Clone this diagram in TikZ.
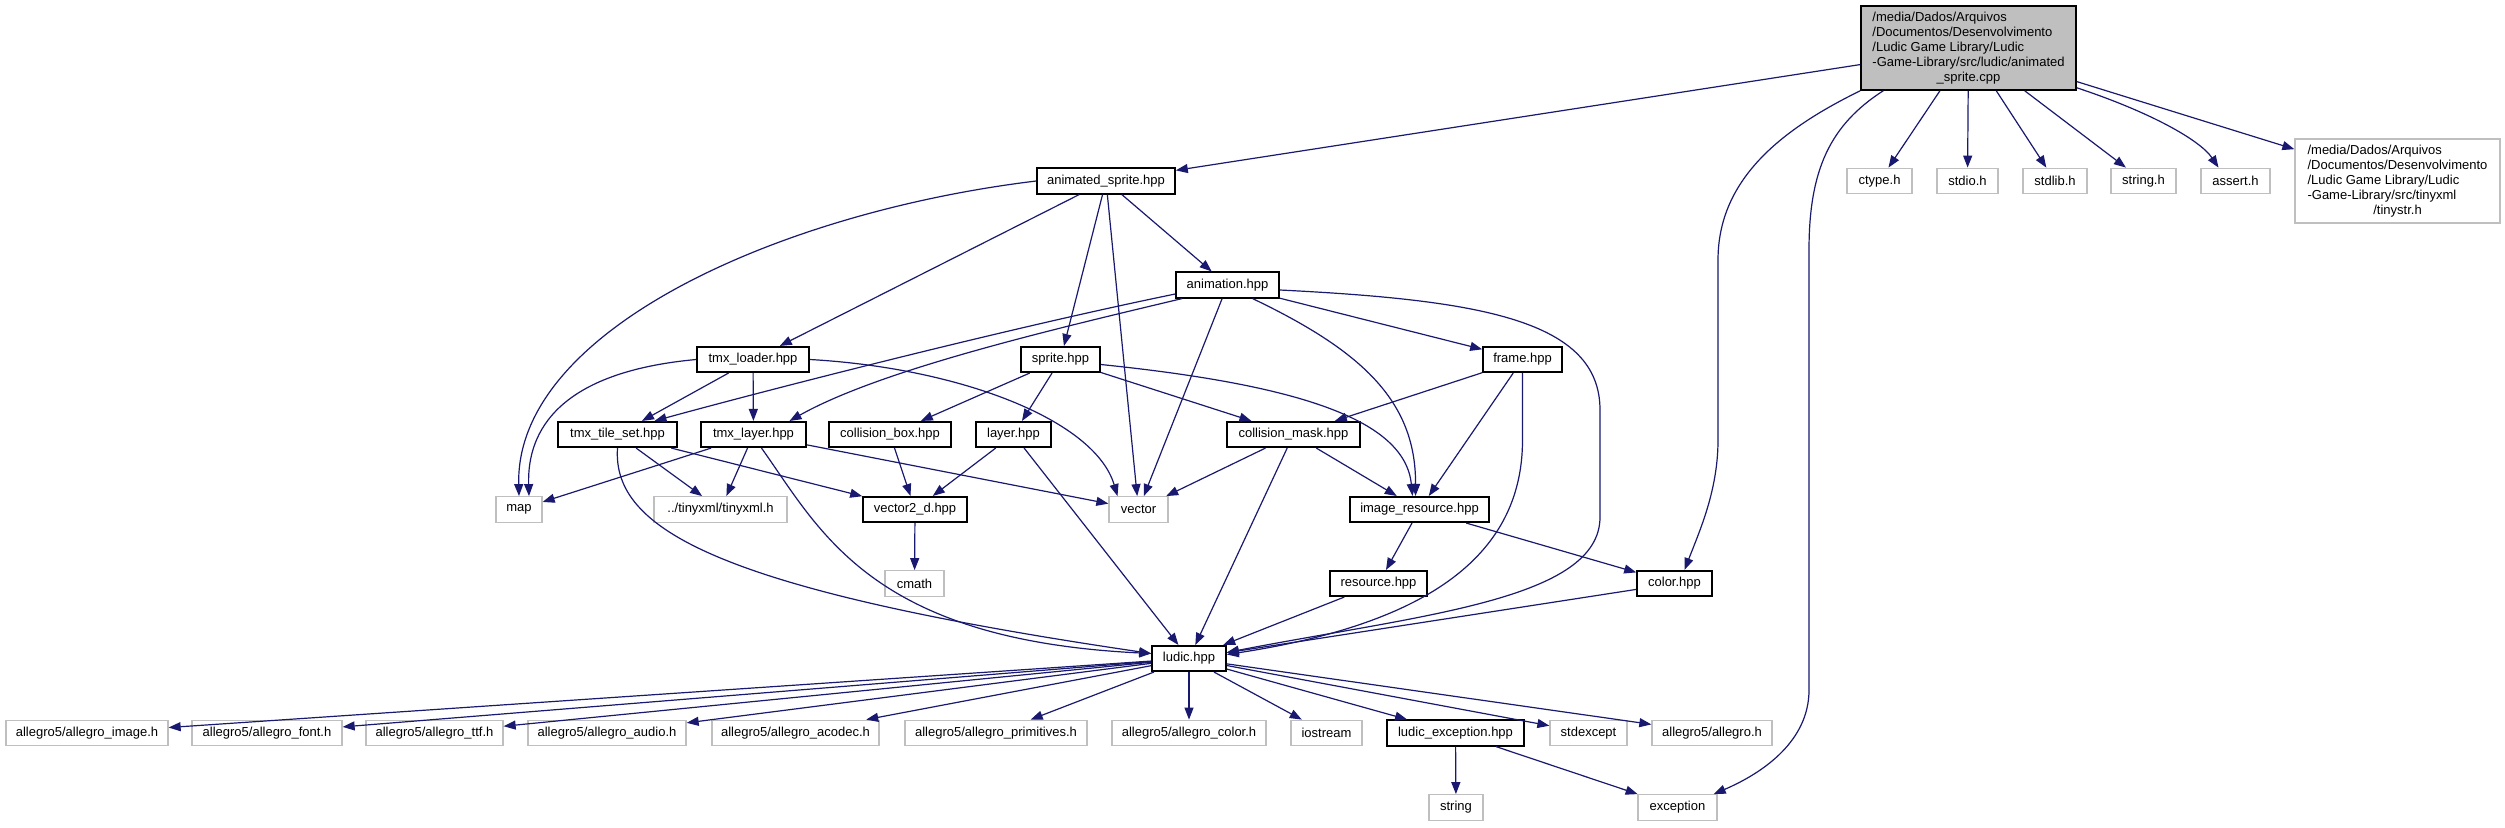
\documentclass[tikz,border=0pt]{standalone}
\usepackage{fontspec}
\setmainfont{Liberation Sans}
\usetikzlibrary{arrows.meta,calc}
\definecolor{edgeblue}{HTML}{191970}
\definecolor{lgray}{HTML}{BFBFBF}
\begin{document}
\begin{tikzpicture}[x=1pt,y=-1pt,
  font=\fontsize{13}{15}\selectfont,
  doc/.style={draw=black, line width=1.6pt, fill=white, minimum height=25.5pt, inner sep=0pt},
  ext/.style={draw=lgray, line width=1.3pt, fill=white, minimum height=25.5pt, inner sep=0pt},
  conn/.style={draw=edgeblue, line width=1.2pt, -{Triangle[length=12pt,width=9pt]}}]
\useasboundingbox[fill=white] (0,0) rectangle (2505,827);

% ---- nodes ----
\node[doc, fill=lgray, minimum width=215pt, minimum height=84pt] (main) at (1968.5,48)
  {\begin{tabular}{@{}l@{}}/media/Dados/Arquivos\\/Documentos/Desenvolvimento\\/Ludic Game Library/Ludic\\-Game-Library/src/ludic/animated\\\multicolumn{1}{@{}c@{}}{\_sprite.cpp}\end{tabular}};
\node[ext, minimum width=205pt, minimum height=84pt] (tinystr) at (2397.5,181)
  {\begin{tabular}{@{}l@{}}/media/Dados/Arquivos\\/Documentos/Desenvolvimento\\/Ludic Game Library/Ludic\\-Game-Library/src/tinyxml\\\multicolumn{1}{@{}c@{}}{/tinystr.h}\end{tabular}};
\node[ext, minimum width=65pt] (ctype) at (1879.5,181) {ctype.h};
\node[ext, minimum width=61pt] (stdio) at (1967.5,181) {stdio.h};
\node[ext, minimum width=64pt] (stdlib) at (2055,181) {stdlib.h};
\node[ext, minimum width=65pt] (stringh) at (2143.5,181) {string.h};
\node[ext, minimum width=69pt] (assert) at (2235.5,181) {assert.h};
\node[doc, minimum width=138pt] (animated_sprite) at (1106,181) {animated\_sprite.hpp};
\node[doc, minimum width=103pt] (animation) at (1227.5,285) {animation.hpp};
\node[doc, minimum width=112pt] (tmx_loader) at (753,359.5) {tmx\_loader.hpp};
\node[doc, minimum width=79pt] (sprite) at (1060.5,359.5) {sprite.hpp};
\node[doc, minimum width=79pt] (frame) at (1522.5,359.5) {frame.hpp};
\node[doc, minimum width=119pt] (tmx_tile_set) at (617.5,434.5) {tmx\_tile\_set.hpp};
\node[doc, minimum width=105pt] (tmx_layer) at (753.5,434.5) {tmx\_layer.hpp};
\node[doc, minimum width=122pt] (collision_box) at (890,434.5) {collision\_box.hpp};
\node[doc, minimum width=75pt] (layer) at (1013.5,434.5) {layer.hpp};
\node[doc, minimum width=133pt] (collision_mask) at (1293.5,434.5) {collision\_mask.hpp};
\node[ext, minimum width=46pt] (map) at (519,509.5) {map};
\node[ext, minimum width=133pt] (tinyxml) at (720.5,509.5) {../tinyxml/tinyxml.h};
\node[doc, minimum width=104pt] (vector2_d) at (915,509.5) {vector2\_d.hpp};
\node[ext, minimum width=59pt] (vector) at (1138.5,509.5) {vector};
\node[doc, minimum width=139pt] (image_resource) at (1419.5,509.5) {image\_resource.hpp};
\node[ext, minimum width=59pt] (cmath) at (914.5,583.5) {cmath};
\node[doc, minimum width=97pt] (resource) at (1378.5,583.5) {resource.hpp};
\node[doc, minimum width=75pt] (color) at (1674.5,583.5) {color.hpp};
\node[doc, minimum width=74pt] (ludic) at (1189,658.5) {ludic.hpp};
\node[ext, minimum width=162pt] (a_image) at (87,733) {allegro5/allegro\_image.h};
\node[ext, minimum width=150pt] (a_font) at (267,733) {allegro5/allegro\_font.h};
\node[ext, minimum width=137pt] (a_ttf) at (434.5,733) {allegro5/allegro\_ttf.h};
\node[ext, minimum width=158pt] (a_audio) at (607,733) {allegro5/allegro\_audio.h};
\node[ext, minimum width=167pt] (a_acodec) at (795.5,733) {allegro5/allegro\_acodec.h};
\node[ext, minimum width=182pt] (a_prim) at (996,733) {allegro5/allegro\_primitives.h};
\node[ext, minimum width=154pt] (a_color) at (1189,733) {allegro5/allegro\_color.h};
\node[ext, minimum width=71pt] (iostream) at (1326.5,733) {iostream};
\node[doc, minimum width=137pt] (ludic_exception) at (1455.5,733) {ludic\_exception.hpp};
\node[ext, minimum width=77pt] (stdexcept) at (1588.5,733) {stdexcept};
\node[ext, minimum width=120pt] (allegro_h) at (1712,733) {allegro5/allegro.h};
\node[ext, minimum width=54pt] (string_s) at (1456,807.5) {string};
\node[ext, minimum width=79pt] (exception) at (1677.5,807.5) {exception};

% ---- edges from main ----
\draw[conn] (main) -- (animated_sprite);
\draw[conn] (main) -- (ctype);
\draw[conn] (main) -- (stdio);
\draw[conn] (main) -- (stdlib);
\draw[conn] (main) -- (stringh);
\draw[conn] ($(main.south east)+(0,-3)$) .. controls (2150,112) and (2200,140) .. ($(assert.north)+(-17,0)$);
\draw[conn] (main) -- (tinystr);
\draw[conn] (main.south west) .. controls (1780,130) and (1718,180) .. (1718,260) -- (1718,440) .. controls (1718,490) and (1700,530) .. ($(color.north)+(10,0)$);
\draw[conn] ($(main.south west)+(23,0)$) .. controls (1830,125) and (1809,170) .. (1809,250) -- (1809,690) .. controls (1809,740) and (1765,772) .. ($(exception.north east)+(-4,0)$);

% ---- animated_sprite ----
\draw[conn] (animated_sprite.west) .. controls (780,212) and (515,330) .. (map.north);
\draw[conn] (animated_sprite) -- (tmx_loader);
\draw[conn] (animated_sprite) -- (sprite);
\draw[conn] (animated_sprite) -- (vector);
\draw[conn] (animated_sprite) -- (animation);

% ---- animation ----
\draw[conn] ($(animation.west)+(0,9)$) .. controls (1000,330) and (760,392) .. ($(tmx_tile_set.north)+(37,0)$);
\draw[conn] ($(animation.south west)+(7,0)$) .. controls (1050,330) and (880,370) .. ($(tmx_layer.north)+(36,0)$);
\draw[conn] (animation) -- (vector);
\draw[conn] ($(animation.south)+(25,0)$) .. controls (1360,350) and (1416,400) .. ($(image_resource.north)+(-4,0)$);
\draw[conn] (animation) -- (frame);
\draw[conn] ($(animation.east)+(0,5)$) .. controls (1480,300) and (1600,320) .. (1600,410) -- (1600,517) .. controls (1600,600) and (1420,615) .. ($(ludic.east)+(0,-6)$);

% ---- tmx_loader ----
\draw[conn] (tmx_loader.west) .. controls (560,372) and (527,430) .. ($(map.north)+(10,0)$);
\draw[conn] (tmx_loader) -- (tmx_tile_set);
\draw[conn] (tmx_loader) -- (tmx_layer);
\draw[conn] (tmx_loader.east) .. controls (960,368) and (1095,420) .. ($(vector.north)+(-21,0)$);

% ---- sprite ----
\draw[conn] (sprite) -- (collision_box);
\draw[conn] (sprite) -- (layer);
\draw[conn] (sprite) -- (collision_mask);
\draw[conn] ($(sprite.east)+(0,5)$) .. controls (1300,385) and (1405,420) .. ($(image_resource.north)+(-7,0)$);

% ---- frame ----
\draw[conn] (frame) -- (collision_mask);
\draw[conn] (frame) -- (image_resource);
\draw[conn] (frame.south) -- (1522.5,440) .. controls (1522.5,560) and (1420,625) .. ($(ludic.east)+(0,-4)$);

% ---- tmx_tile_set ----
\draw[conn] (tmx_tile_set) -- (tinyxml);
\draw[conn] (tmx_tile_set) -- (vector2_d);
\draw[conn] (tmx_tile_set.south) .. controls (612,530) and (720,590) .. ($(ludic.west)+(0,-5)$);

% ---- tmx_layer ----
\draw[conn] (tmx_layer) -- (map);
\draw[conn] (tmx_layer) -- (tinyxml);
\draw[conn] ($(tmx_layer.south)+(8,0)$) .. controls (820,530) and (870,640) .. ($(ludic.west)+(0,-5)$);
\draw[conn] (tmx_layer) -- (vector);

% ---- others ----
\draw[conn] (collision_box) -- (vector2_d);
\draw[conn] (layer) -- (vector2_d);
\draw[conn] (layer) -- (ludic);
\draw[conn] (collision_mask) -- (vector);
\draw[conn] (collision_mask) -- (image_resource);
\draw[conn] (collision_mask) -- (ludic);
\draw[conn] (vector2_d) -- (cmath);
\draw[conn] (image_resource) -- (resource);
\draw[conn] (image_resource) -- (color);
\draw[conn] (resource) -- (ludic);
\draw[conn] (color) -- (ludic);

% ---- ludic ----
\draw[conn] (ludic) -- (a_image);
\draw[conn] (ludic) -- (a_font);
\draw[conn] (ludic) -- (a_ttf);
\draw[conn] (ludic) -- (a_audio);
\draw[conn] (ludic) -- (a_acodec);
\draw[conn] (ludic) -- (a_prim);
\draw[conn] (ludic) -- (a_color);
\draw[conn] (ludic) -- (iostream);
\draw[conn] (ludic) -- (ludic_exception);
\draw[conn] (ludic) -- (stdexcept);
\draw[conn] (ludic) -- (allegro_h);
\draw[conn] (ludic_exception) -- (string_s);
\draw[conn] (ludic_exception) -- (exception);
\end{tikzpicture}
\end{document}
